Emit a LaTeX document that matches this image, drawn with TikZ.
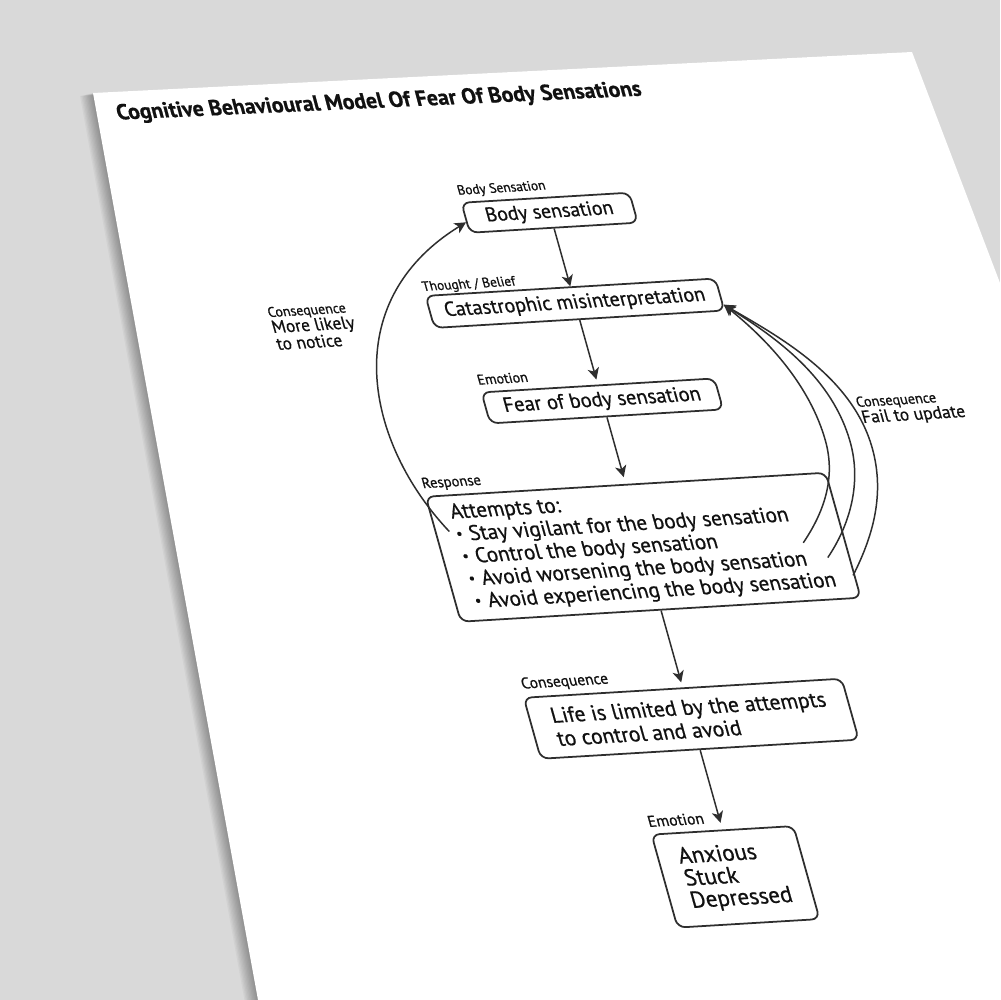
\documentclass[tikz,border=0pt]{standalone}
\usepackage{fontspec}
\setmainfont{PT Sans}[FakeBold=0.7]
\usetikzlibrary{arrows.meta}
\definecolor{bg}{HTML}{D9D9D9}
\definecolor{ink}{HTML}{2E2E2E}
\definecolor{txt}{HTML}{111111}
\newcommand\fs[2]{\fontsize{#1}{#2}\selectfont}
\newcommand\bul{\raisebox{0.12em}{\fontsize{8}{8}\selectfont\textbullet}\hspace{0.3em}}
\begin{document}
\begin{tikzpicture}[x=0.02cm,y=-0.02cm,
  box/.style={draw=ink,line width=1pt,rounded corners=4.5pt,fill=white,transform shape,inner sep=0pt,align=center,text=txt},
  lbl/.style={transform shape,inner sep=0pt,anchor=base west,text=txt},
  conn/.style={draw=ink,line width=0.85pt,-{Stealth[length=6.5pt,width=6.5pt,inset=1.8pt]}}]
\useasboundingbox (0,0) rectangle (1000,1000);
\fill[bg] (0,0) rectangle (1000,1000);
% paper shadow
\foreach \k in {1,...,10}{
  \begin{scope}[shift={(-1.3*\k,0.3*\k)}]
    \fill[black,opacity=0.035] (93,93) -- (912,52) -- (1000,283) -- (1000,1000) -- (258,1000) -- cycle;
  \end{scope}
}
\fill[white] (93,93) -- (912,52) -- (1000,283) -- (1000,1000) -- (258,1000) -- cycle;

\begin{scope}[cm={1,0.06,-0.28,1,(-2.8cm,-0.72cm)}]
\node[lbl,rotate=-0.8,font=\bfseries\fs{12.3}{14}] (title) at (230.7,97.5) {Cognitive Behavioural Model Of Fear Of Body Sensations};

\node[box,minimum width=3.36cm,minimum height=0.6cm,font=\fs{11.2}{13}] (body) at (629.5,214.5) {Body sensation};
\node[box,minimum width=5.8cm,minimum height=0.64cm,font=\fs{11.4}{13}] (cat) at (629.5,305) {Catastrophic misinterpretation};
\node[box,minimum width=4.66cm,minimum height=0.62cm,font=\fs{11.6}{13}] (fear) at (629.5,402.7) {Fear of body sensation};
\node[box,minimum width=8cm,minimum height=2.5cm,align=left,font=\fs{12}{12.7}] (resp) at (629.5,549) {Attempts to:\\\bul Stay vigilant for the body sensation\\\bul Control the body sensation\\\bul Avoid worsening the body sensation\\\bul Avoid experiencing the body sensation};
\node[box,minimum width=6.36cm,minimum height=1.22cm,align=left,font=\fs{12.2}{13.1}] (cons) at (629.5,720.5) {Life is limited by the attempts\\to control and avoid};
\node[box,minimum width=2.84cm,minimum height=1.86cm,align=left,font=\fs{13}{12.6}] (emo) at (629.5,878.6) {Anxious\\Stuck\\Depressed};

\node[lbl,font=\fs{7.6}{9}] (lb1) at (544.5,191.5) {Body Sensation};
\node[lbl,font=\fs{7.6}{9}] (lb2) at (483.5,284) {Thought / Belief};
\node[lbl,font=\fs{8}{9}] (lb3) at (512,379.5) {Emotion};
\node[lbl,font=\fs{8.3}{9}] (lb4) at (429,478) {Response};
\node[lbl,font=\fs{8.8}{9}] (lb5) at (471.5,681) {Consequence};
\node[lbl,font=\fs{8.9}{9}] (lb6) at (558,824.5) {Emotion};

\node[lbl,font=\fs{7.9}{9}] (lc1) at (324.5,300.6) {Consequence};
\node[lbl,font=\fs{9.9}{10}] (lc2) at (324.5,316.5) {More likely};
\node[lbl,font=\fs{9.9}{10}] (lc3) at (324.5,333.4) {to notice};
\node[lbl,font=\fs{8.1}{9}] (rc1) at (878.4,423.7) {Consequence};
\node[lbl,font=\fs{9.9}{10}] (rc2) at (879.9,439.8) {Fail to update};

\draw[conn] (body.south) -- (cat.north);
\draw[conn,shorten >=3pt] (cat.south) -- (fear.north);
\draw[conn,shorten >=4pt] (fear.south) -- (resp.north);
\draw[conn,shorten >=3pt] (resp.south) -- (cons.north);
\draw[conn,shorten >=4pt] (cons.south) -- (emo.north);

\coordinate (vig) at (443,522);
\coordinate (r1) at (788,554);
\coordinate (r2) at (808,570);
\coordinate (r3) at (828,589);
\draw[conn] (vig) .. controls (385,430) and (395,290) .. (body.183);
\draw[conn] (r1) .. controls (816.3,525.7) and (838,493) .. (838,455) .. controls (838,400) and (809.5,353) .. (cat.-4.3);
\draw[conn] (r2) .. controls (839.8,538.2) and (862,498) .. (862,458) .. controls (862,393) and (818.4,351.2) .. (cat.-4.3);
\draw[conn] (r3) .. controls (859.6,550.3) and (882,510) .. (882,465) .. controls (882,395) and (824,352) .. (cat.-4.3);
\end{scope}
\end{tikzpicture}
\end{document}
